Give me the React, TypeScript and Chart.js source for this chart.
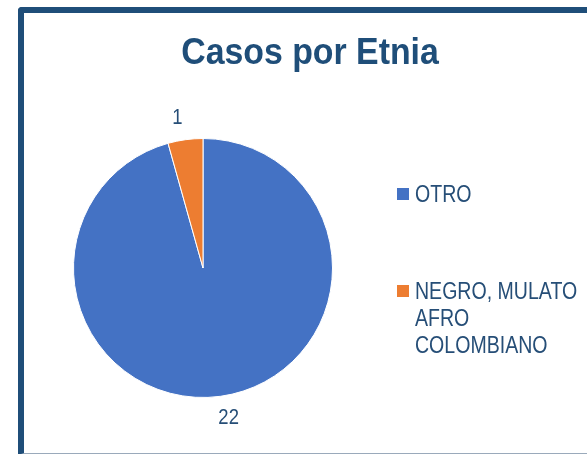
import React, { useEffect, useRef } from "react";
import { Chart, registerables } from "chart.js";

Chart.register(...registerables);

const TITLE = "Casos por Etnia";
const categories = ["OTRO", "NEGRO, MULATO AFRO COLOMBIANO"];
const values = [22, 1];
const colors = ["#4472C4", "#ED7D31"];

const TEXT_COLOR = "#264E77";
const FONT = '"Liberation Sans", Arial, sans-serif';

function wrap(ctx: CanvasRenderingContext2D, text: string, maxW: number): string[] {
  const words = text.split(" ");
  const lines: string[] = [];
  let cur = "";
  for (const w of words) {
    const t = cur ? cur + " " + w : w;
    if (ctx.measureText(t).width > maxW && cur) {
      lines.push(cur);
      cur = w;
    } else cur = t;
  }
  if (cur) lines.push(cur);
  return lines;
}

function fillScaled(ctx: CanvasRenderingContext2D, text: string, x: number, y: number, sx: number) {
  ctx.save();
  ctx.translate(x, y);
  ctx.scale(sx, 1);
  ctx.fillText(text, 0, 0);
  ctx.restore();
}

const decorPlugin = {
  id: "decor",
  afterDraw(chart: any) {
    const ctx: CanvasRenderingContext2D = chart.ctx;
    ctx.save();
    // Title
    ctx.fillStyle = "#1F4E79";
    ctx.font = `bold 36px ${FONT}`;
    ctx.textAlign = "center";
    ctx.textBaseline = "alphabetic";
    fillScaled(ctx, TITLE, 310, 64, 0.94);

    // Data labels
    const meta = chart.getDatasetMeta(0);
    ctx.font = `22px ${FONT}`;
    ctx.fillStyle = TEXT_COLOR;
    ctx.textBaseline = "middle";
    meta.data.forEach((arc: any, i: number) => {
      const p = arc.getProps(["x", "y", "startAngle", "endAngle", "outerRadius"], true);
      const mid = (p.startAngle + p.endAngle) / 2;
      const r = p.outerRadius + 22;
      const c = Math.cos(mid);
      const x = p.x + r * c + Math.sign(c) * 5;
      const y = p.y + r * Math.sin(mid);
      fillScaled(ctx, String(chart.data.datasets[0].data[i]), x, y, 0.84);
    });

    // Legend
    ctx.font = `23px ${FONT}`;
    ctx.textAlign = "left";
    ctx.textBaseline = "alphabetic";
    const legendTops = [188, 285];
    chart.data.labels.forEach((lab: string, i: number) => {
      const top = legendTops[i];
      ctx.fillStyle = colors[i];
      ctx.fillRect(397, top, 12, 12);
      ctx.fillStyle = TEXT_COLOR;
      const lines = wrap(ctx, lab, 198);
      lines.forEach((ln, j) => fillScaled(ctx, ln, 415, top + 14 + j * 27, 0.85));
    });
    ctx.restore();
  },
};

export default function App() {
  const ref = useRef<HTMLCanvasElement>(null);
  useEffect(() => {
    if (!ref.current) return;
    const chart = new Chart(ref.current, {
      type: "pie",
      data: {
        labels: categories,
        datasets: [
          {
            data: values,
            backgroundColor: colors,
            borderColor: "#FFFFFF",
            borderWidth: 1,
          },
        ],
      },
      options: {
        animation: false,
        responsive: false,
        maintainAspectRatio: false,
        layout: { padding: { left: 73, top: 138, right: 254, bottom: 56 } },
        plugins: {
          legend: { display: false },
          title: { display: false },
          tooltip: { enabled: false },
        },
      },
      plugins: [decorPlugin],
    });
    return () => chart.destroy();
  }, []);

  return (
    <div style={{ position: "absolute", left: 0, top: 0, width: 587, height: 454, background: "#fff", overflow: "hidden" }}>
      <div
        style={{
          position: "absolute",
          left: 18,
          top: 7,
          width: 620,
          height: 440,
          borderLeft: "6px solid #1F4E79",
          borderTop: "6px solid #1F4E79",
          borderBottom: "2px solid #9AAABB",
          borderTopLeftRadius: 4,
        }}
      />
      <canvas ref={ref} width={587} height={454} style={{ position: "absolute", left: 0, top: 0, width: 587, height: 454 }} />
    </div>
  );
}
